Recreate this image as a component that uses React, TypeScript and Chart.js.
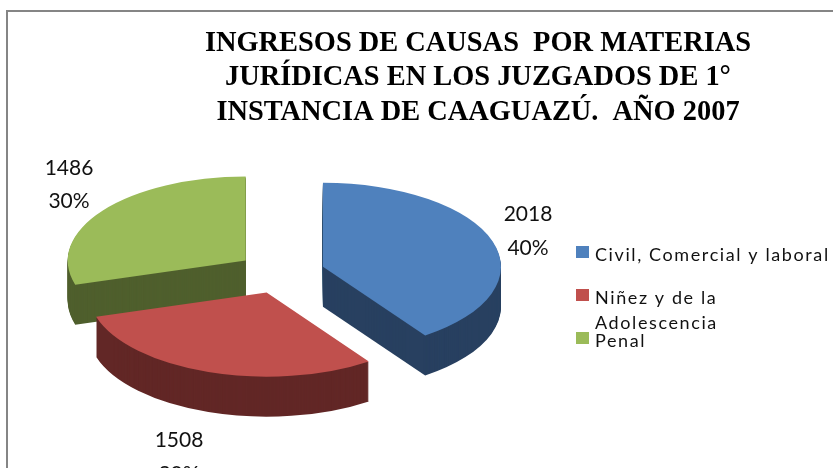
import React, { useEffect, useRef } from "react";
import { Chart, registerables } from "chart.js";

Chart.register(...registerables);

const categories = ["Civil, Comercial y laboral", "Niñez y de la\nAdolescencia", "Penal"];
const values = [2018, 1508, 1486];
const percents = ["40%", "30%", "30%"];
const topColors = ["#4F81BD", "#C0504D", "#9BBB59"];
const sideColors = ["#284060", "#622726", "#4F5F2D"];
const titleLines = ["INGRESOS DE CAUSAS  POR MATERIAS", "JURÍDICAS EN LOS JUZGADOS DE 1°", "INSTANCIA DE CAAGUAZÚ.  AÑO 2007"];

const CX = 281, CY = 273, RX = 178, RY = 84, EXPLODE = 44, DEPTH = 40;
const drawOrder = [0, 2, 1];
const labelPos = [
  { x: 528, y: 214, dy: 34 },
  { x: 179, y: 440, dy: 34 },
  { x: 69, y: 168, dy: 33 },
];
const legendRows = [252, 295, 338];

const pie3d = {
  id: "pie3d",
  afterLayout(chart: any) {
    const t = chart.titleBlock;
    if (t) { t.left = 123; t.right = 833; }
  },
  beforeDraw(chart: any) {
    const { ctx } = chart;
    ctx.save();
    ctx.strokeStyle = "#858585";
    ctx.lineWidth = 2;
    ctx.beginPath();
    ctx.moveTo(7, 468);
    ctx.lineTo(7, 11);
    ctx.lineTo(833, 11);
    ctx.stroke();
    ctx.restore();
  },
  beforeDatasetDraw(chart: any, args: any) {
    const { ctx } = chart;
    const arcs = args.meta.data;
    const k = RY / RX;
    for (const i of drawOrder) {
      const arc = arcs[i];
      const orig = arc.options;
      const a = (arc.startAngle + arc.endAngle) / 2;
      const ex = Math.cos(a) * EXPLODE;
      const ey = Math.sin(a) * EXPLODE * k;
      const r = arc.outerRadius;
      const paint = (d: number, color: string) => {
        arc.options = Object.assign(Object.create(orig), { backgroundColor: color });
        ctx.save();
        ctx.translate(CX + ex, CY + ey + d);
        ctx.scale(RX / r, RY / r);
        ctx.translate(-arc.x, -arc.y);
        arc.draw(ctx);
        ctx.restore();
      };
      for (let d = DEPTH; d > 0; d--) paint(d, sideColors[i]);
      paint(0, topColors[i]);
      arc.options = orig;
    }
    return false;
  },
  afterDraw(chart: any) {
    const { ctx } = chart;
    ctx.save();
    ctx.fillStyle = "#111111";
    ctx.textAlign = "center";
    ctx.textBaseline = "middle";
    ctx.font = "21px Lato";
    values.forEach((v, i) => {
      const p = labelPos[i];
      ctx.fillText(String(v), p.x, p.y);
      ctx.fillText(percents[i], p.x, p.y + p.dy);
    });
    ctx.textAlign = "left";
    ctx.textBaseline = "alphabetic";
    ctx.font = "18px Lato";
    (ctx as any).letterSpacing = "1.6px";
    categories.forEach((c, i) => {
      const y = legendRows[i];
      ctx.fillStyle = topColors[i];
      ctx.fillRect(576, y - 6, 13, 12);
      ctx.fillStyle = "#111111";
      c.split("\n").forEach((line, j) => ctx.fillText(line, 595, y + 9 + j * 25));
    });
    ctx.restore();
  },
};

export default function App() {
  const ref = useRef<HTMLCanvasElement>(null);
  useEffect(() => {
    const chart = new Chart(ref.current!, {
      type: "pie",
      data: {
        labels: categories,
        datasets: [{ data: values, backgroundColor: topColors, borderWidth: 0 }],
      },
      options: {
        animation: false,
        responsive: false,
        layout: { padding: 0 },
        plugins: {
          legend: { display: false },
          tooltip: { enabled: false },
          title: {
            display: true,
            text: titleLines,
            color: "#000000",
            font: { family: "'Liberation Serif'", size: 28.4, weight: "bold", lineHeight: 34.5 / 28.4 },
            padding: { top: 26, bottom: 10 },
          },
        },
      },
      plugins: [pie3d],
    } as any);
    return () => chart.destroy();
  }, []);
  return (
    <div style={{ position: "fixed", left: 0, top: 0, width: 833, height: 468, overflow: "hidden", background: "#fff" }}>
      <canvas ref={ref} width={833} height={468} style={{ display: "block" }} />
    </div>
  );
}
